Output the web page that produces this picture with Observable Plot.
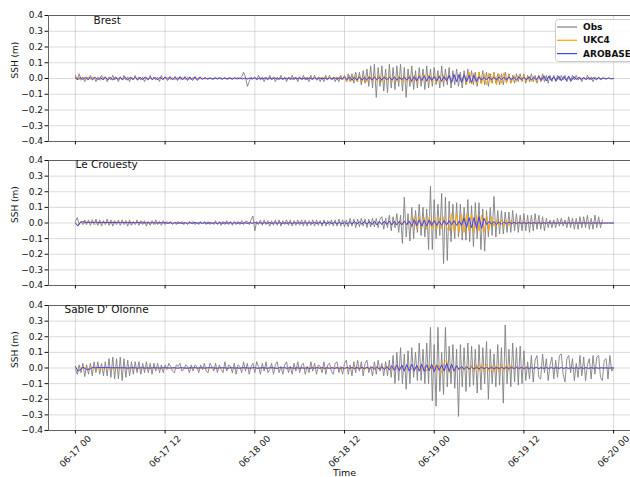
<!DOCTYPE html>
<html><head><meta charset="utf-8">
<script src="https://cdn.jsdelivr.net/npm/d3@7"></script>
<script src="https://cdn.jsdelivr.net/npm/@observablehq/plot@0.6"></script>
<style>
html,body{margin:0;padding:0;overflow:hidden;background:#fff;width:630px;height:477px;}
#wrap{position:relative;width:630px;height:477px;overflow:hidden;font-family:"DejaVu Sans",sans-serif;}
.panel{position:absolute;left:0;}
#legend{position:absolute;left:555px;top:19px;}
</style>
</head><body><div id="wrap"></div>
<script>
// ---------- DATA ----------
const stations = ["Brest", "Le Crouesty", "Sable D' Olonne"];
const seriesNames = ["Obs", "UKC4", "AROBASE"];
const tickLabels = ["06-17 00", "06-17 12", "06-18 00", "06-18 12", "06-19 00", "06-19 12", "06-20 00"];
const yTicks = [-0.4, -0.3, -0.2, -0.1, 0, 0.1, 0.2, 0.3, 0.4];
// Obs sampled every 15 min from 06-17 00:00; models every 20 min
const brestObs = [
.02,-.01,.03,-.01, .01,-.02,.01,-.01, .02,-.01,.01,-.02, .01,-.01,.02,-.01, .01,-.02,.01,-.01, .02,-.01,.01,-.02,
.01,-.01,.02,-.01, .01,-.02,.01,-.01, .02,-.01,.01,-.01, .01,-.02,.01,-.01, .02,-.01,.01,-.01, .01,-.02,.02,-.01,
.01,0,.005,-.005, .005,-.005,0,.005, -.005,.005,0,-.005, .005,0,-.005,.005, 0,-.005,.005,0, -.005,.005,0,-.005,
.005,0,-.005,.005, 0,.005,-.005,0, .005,-.005,.005,0, -.005,.005,0,.005,
0,.01,.04,.01, -.05,-.02,.01,0,
.01,-.01,.02,-.01, .01,-.02,.01,-.01, .02,-.01,.01,-.02, .01,-.01,.02,-.01, .01,-.02,.01,-.01, .02,-.01,.01,-.02,
.01,-.01,.02,-.01, .01,-.02,.02,-.01, .02,-.01,.01,-.02, .01,-.02,.02,-.01, .02,-.01,.01,-.02, .01,-.02,.02,-.01,
.02,-.02,.03,-.02, .03,-.03,.04,-.02, .04,-.04,.05,-.03, .06,-.05,.08,-.06, .09,-.12,.07,-.05, .08,-.08,.06,-.09,
.09,-.06,.07,-.07, .08,-.05,.09,-.08, .07,-.12,.06,-.05, .08,-.07,.05,-.06, .07,-.05,.06,-.07, .08,-.06,.06,-.05,
.07,-.04,.05,-.06, .08,-.05,.06,-.04, .07,-.06,.05,-.04, .06,-.05,.04,-.06, .05,-.04,.06,-.03, .05,-.04,.04,-.05,
.04,-.03,.05,-.04, .04,-.05,.03,-.03, .04,-.03,.03,-.04, .03,-.04,.04,-.02, .03,-.03,.02,-.03, .03,-.02,.03,-.02,
.03,-.03,.02,-.02, .03,-.02,.02,-.03, .02,-.02,.03,-.02, .02,-.03,.02,-.02, .02,-.02,.02,-.01, .02,-.01,.02,-.02,
.01,-.02,.02,-.01, .02,-.01,.01,-.02, .01,-.01,.02,-.01, .01,-.02,.01,-.01,
.01,-.01,.005
];
const brestUKC4 = [
0,.01,-.01, .005,-.01,.01, -.005,.01,-.005, .005,-.01,.005, .01,-.005,.005, -.01,.005,-.005,
.01,-.005,.005, -.01,.01,-.005, .005,-.01,.005, -.005,.01,-.005, .005,-.005,.005, -.005,.005,0,
0,.003,-.002, .002,-.003,0, .003,-.002,.002, 0,-.003,.002, .003,0,-.002, .002,-.003,.003,
0,-.002,.003, -.003,.002,0, .002,-.003,.002, .003,-.002,0, -.002,.003,-.003, .002,0,-.002,
.003,-.002,.002, 0,-.003,.003, -.002,.002,0, .003,-.003,.002, -.002,.003,-.002, 0,.002,-.003,
.01,-.01,.008, -.01,.01,-.008, .01,-.012,.01, -.008,.01,-.01, .012,-.01,.008, -.01,.012,-.01,
.015,-.02,.02, -.015,.02,-.02, .018,-.02,.015, -.02,.02,-.018, .02,-.015,.02, -.02,.018,-.015, .02,-.02,.015, -.018,.02,-.02, .015,-.02,.02,
-.025,.02,-.025, .025,-.02,.025, -.02,.025,-.025, .02,-.025,.02, -.025,.025,-.02, .025,-.025,.02, -.02,.025,-.025,
.03,-.035,.04, -.035,.035,-.04, .04,-.035,.03, -.04,.035,-.03, .035,-.04,.03, -.03,.035,-.03,
.02,-.025,.02, -.02,.02,-.015, .02,-.02,.015, -.02,.015,-.02, .015,-.015,.02, -.015,.015,-.01,
.01,-.01,.012, -.01,.01,-.008, .01,-.012,.01, -.008,.01,-.01, .008,-.01,.008, -.008,.01,-.006, .008,-.006,.005, -.005,.005,-.003,
0
];
const brestArobase = [
.005,-.008,.008, -.006,.008,-.008, .007,-.006,.008, -.008,.006,-.007, .008,-.008,.006, -.007,.008,-.006,
.006,-.007,.008, -.008,.006,-.006, .008,-.007,.006, -.006,.008,-.008, .007,-.006,.007, -.008,.008,-.006,
.01,-.012,.012, -.01,.012,-.012, .012,-.01,.012, -.012,.01,-.012, .012,-.012,.01,
-.004,.004,-.003, .003,-.004,.004, -.003,.004,-.004, .004,-.003,.003, -.004,.004,-.003, .003,-.004,.004, -.004,.003,-.003, .004,-.004,.003, -.003,.004,-.004, .004,-.003,.004, -.004,.003,-.003, .003,-.004,.004, -.004,.004,-.003, .004,-.003,.003, -.003,.004,-.004, .004,-.004,.003, -.003,.003,-.004, .004,-.003,.004, -.004,.004,-.003,
.01,-.008,.01, -.01,.008,-.01, .01,-.01,.008, -.008,.01,-.01, .01,-.008,.008, -.01,.01,-.008, .008,-.01,.01, -.01,.008,-.008, .01,-.01,.01,
-.015,.012,-.015, .015,-.012,.015, -.015,.015,-.012, .012,-.015,.015, -.015,.012,-.015,
.02,-.025,.025, -.02,.025,-.025, .025,-.02,.02, -.025,.02,-.02,
.01,-.01,.008, -.01,.01,-.008, .008,-.01,.01, -.008,.008,-.01, .01,-.008,.008, -.01,.01,-.008, .008,-.008,.01, -.01,.008,-.008,
.015,-.012,.015, -.015,.015,-.012, .012,-.015,.015, -.015,.012,-.012, .015,-.015,.012,
-.005,.005,-.004, .004,-.005,.005, -.004,.004,-.005, .005,-.004,.003, -.003,.003,-.002,
0
];
const crouestyObs = [
.01,.035,-.01,.01, -.01,.02,-.01,.02, -.015,.02,-.01,.025, -.015,.02,-.02,.015, -.01,.025,-.015,.02, -.02,.015,-.01,.02,
-.015,.02,-.01,.015, -.02,.02,-.015,.01, -.01,.02,-.015,.015, -.01,.015,-.02,.01, -.015,.015,-.01,.02, -.01,.01,-.015,.015,
-.01,.01,-.005,.01, -.01,.005,-.01,.01, -.005,.01,-.01,.005, -.01,.01,-.005,.01, -.01,.005,-.01,.01, -.005,.01,-.01,.01,
-.01,.005,-.01,.015, -.01,.01,-.015,.01, -.01,.015,-.01,.01, -.015,.01,-.01,.01, -.01,.015,-.01,.01,
.01,-.01,.02,.045, -.05,.01,-.01,.02,
-.015,.02,-.01,.015, -.02,.015,-.015,.02, -.015,.02,-.02,.015, -.01,.02,-.015,.02, -.02,.015,-.015,.02,
-.015,.02,-.02,.02, -.02,.015,-.015,.02, -.02,.02,-.015,.015, -.02,.02,-.02,.015, -.015,.02,-.02,.02, -.02,.025,-.02,.02,
-.025,.02,-.025,.03, -.02,.025,-.03,.025, -.025,.03,-.02,.025, -.03,.025,-.025,.03, -.025,.03,-.03,.025,
.04,-.04,.03,-.03, .05,-.05,.04,-.03, .06,-.06,.05,-.13, .165,-.09,.06,-.115, .10,-.10,.08,-.06, .12,-.08,.10,-.09,
.09,-.17,.235,-.17, .15,-.10,.12,-.08, .19,-.26,.165,-.24, .14,-.12,.12,-.10, .13,-.09,.12,-.11, .10,-.11,.15,-.12,
.11,-.15,.13,-.10, .13,-.17,.09,-.18, .08,-.09,.10,-.08, .17,-.09,.08,-.07, .08,-.07,.07,-.06, .07,-.06,.08,-.05,
.06,-.06,.05,-.05, .06,-.05,.05,-.06, .05,-.05,.06,-.04, .05,-.04,.04,-.05, .03,-.03,.02,-.03, .02,-.03,.03,-.02,
.03,-.02,.02,-.03, .04,-.03,.03,-.04, .03,-.04,.04,-.03, .04,-.03,.05,-.04, .03,-.04,.05,-.03,
.04,-.03,.02
];
const crouestyUKC4 = [
0,-.015,.005, .005,-.005,.008, -.005,.005,-.008, .005,-.005,.005, -.008,.005,-.005, .008,-.005,.005, -.005,.008,-.005, .005,-.008,.005, -.005,.005,-.005, .008,-.005,.005, -.005,.005,-.008, .005,-.005,.005,
.004,-.003,.003, -.004,.003,-.003, .003,-.004,.004, -.003,.003,-.004, .004,-.003,.003, -.004,.004,-.003,
.003,-.003,.004, -.004,.003,-.003, .003,-.004,.003, -.003,.004,-.004, .004,-.003,.003, -.003,.004,-.003,
.004,-.004,.003, -.003,.003,-.004, .004,-.003,.004, -.004,.003,-.003, .003,-.004,.004, -.003,.003,-.004,
.005,-.004,.005, -.005,.004,-.005, .005,-.005,.004, -.004,.005,-.005, .006,-.005,.005, -.005,.006,-.006,
.01,-.008,.01, -.01,.01,-.008, .008,-.01,.01, -.01,.008,-.01, .01,-.01,.012, -.01,.012,-.01, .01,-.012,.012, -.01,.015,-.012, .015,-.015,.01,
-.03,.04,-.035, .04,-.03,.035, -.04,.04,-.04, .035,-.04,.03, -.035,.04,-.03,
-.05,.06,-.055, .06,-.06,.055, -.06,.06,-.05, .055,-.06,.05,
-.05,.05,-.06, .05,-.045,.04,
-.02,.02,-.015, .02,-.02,.015, -.015,.02,-.01,
.005,-.005,.004, -.004,.005,-.005, .005,-.004,.004, -.005,.005,-.004, .004,-.005,.005, -.004,.004,-.005, .005,-.004,.005, -.005,.004,-.004, .004,-.005,.004, -.004,.005,-.004, .005,-.004,.004, -.004,.004,-.003, .003,-.003,.002,
0
];
const crouestyArobase = [
0,-.02,.005, .008,.005,.003, .005,.003,.005, .004,.003,.005, .003,.004,.002, .003,.004,.002, .003,.002,.003, .002,.003,.002, .002,.003,.001, .002,.001,.002, .001,.002,.001, .001,.002,.001,
.002,-.002,.002, -.002,.003,-.002, .002,-.003,.002, -.002,.002,-.002, .003,-.002,.002, -.002,.002,-.003, .002,-.002,.002, -.003,.002,-.002, .002,-.002,.003, -.002,.002,-.002, .002,-.003,.002,
-.002,.002,-.002, .003,-.002,.002, -.002,.002,-.002, .002,-.003,.002, -.002,.002,-.003, .002,-.002,.002, -.003,.002,-.002, .002,-.002,.003, -.002,.002,-.002, .003,-.003,.004, -.004,.005,-.004,
.005,-.005,.006, -.006,.005,-.006, .006,-.007,.006, -.007,.008,-.007, .008,-.008,.01, -.008,.01,-.01, .01,-.012,.01, -.01,.012,-.01, .012,-.012,.01, -.012,.01,-.012, .012,-.01,.012,
-.02,.02,-.018, .02,-.02,.018, -.02,.02,-.015,
.015,-.015,.012, -.015,.015,-.012, .015,-.012,.015, -.015,.012,-.015,
.03,-.03,.035, -.03,.035,-.035, .04,-.035,.03,
-.01,.01,-.008, .01,-.01,.008, -.008,.008,-.006,
.005,-.004,.004, -.004,.004,-.003, .003,-.004,.003, -.003,.003,-.003, .003,-.003,.002, -.002,.003,-.002, .002,-.002,.002, -.002,.002,-.002, .002,-.002,.002, -.002,.002,-.002, .002,-.002,.002, -.002,.002,-.002, .002,-.002,.001, -.001,.001,-.001,
0
];
const sableObs = [
-.01,-.04,.02,-.03, .03,-.055,.02,-.04, .03,-.05,.04,-.03, .04,-.04,.03,-.05, .04,-.05,.06,-.06, .07,-.07,.06,-.07,
.07,-.08,.06,-.06, .05,-.05,.04,-.04, .04,-.03,.04,-.04, .03,-.03,.04,-.03, .03,-.04,.03,-.02, .03,-.03,.02,-.03,
.02,-.01,.03,.01, -.02,-.03,.02,.01, .03,-.02,-.01,.02, .01,-.03,.02,-.02, .02,.01,-.03,.02, -.01,.03,-.02,-.03,
.03,.01,-.02,.03, -.03,.02,-.01,-.03, .04,-.02,.02,.01, -.03,.03,-.04,.02, .01,-.03,.04,-.02, .03,-.04,.01,.03,
-.03,.04,.01,-.04, .03,-.02,.04,-.03, -.01,.03,-.04,.02, .04,-.03,.01,-.04, .02,.04,-.03,.01, -.04,.03,-.02,.04,
-.03,.02,.03,-.04, .01,-.03,.04,-.02, .03,-.04,.02,.01, -.03,.04,-.04,.02, .03,-.02,-.04,.03, .04,-.03,.01,-.04,
.03,.05,-.04,.02, -.05,.04,-.03,.05, -.02,.04,-.05,.03, .05,-.03,.01,-.05, .04,-.04,.05,-.02, .03,-.05,.04,-.05,
.05,-.06,.08,-.1, .10,-.08,.13,-.10, .09,-.136,.11,-.10, .13,-.06,.10,-.08, .16,-.08,.12,-.10, .16,-.10,.26,-.21,
.15,-.245,.26,-.15, .10,-.17,.26,-.12, .14,-.10,.15,-.13, .12,-.31,.15,-.12, .13,-.15,.16,-.12, .14,-.11,.12,-.16,
.15,-.14,.13,-.10, .17,-.20,.12,-.10, .09,-.12,.15,-.11, .13,-.225,.275,-.10, .12,-.12,.16,-.09, .13,-.11,.14,-.10,
.11,-.08,.04,-.07, .08,-.09,.05,.08, -.06,-.07,.09,-.03, .06,-.08,.02,.07, -.07,.05,-.06,.08, .09,-.04,-.09,.06,
.08,-.03,.06,-.08, .03,-.06,.08,-.05, .07,-.08,.02,.06, -.07,.08,-.04,.07, .08,-.06,-.08,.05, .06,-.07,.08,-.02,
0
];
const sableUKC4 = [
0,-.01,.005, -.005,.005,-.005, .004,-.004,.005, -.005,.004,-.004, .005,-.005,.004, -.004,.005,-.005, .004,-.004,.005, -.005,.004,-.004, .005,-.005,.004, -.004,.005,-.005, .004,-.004,.005, -.005,.004,-.004,
.004,-.003,.003, -.004,.003,-.003, .003,-.004,.004, -.003,.003,-.004, .004,-.003,.003, -.004,.004,-.003, .003,-.003,.004, -.004,.003,-.003, .003,-.004,.003, -.003,.004,-.004,
.004,-.003,.003, -.003,.004,-.003, .004,-.004,.003, -.003,.003,-.004, .004,-.003,.004, -.004,.003,-.003, .003,-.004,.004, -.003,.003,-.004, .004,-.004,.003, -.003,.004,-.003,
.003,-.003,.004, -.004,.003,-.004, .004,-.003,.003, -.003,.004,-.004, .004,-.004,.003, -.003,.003,-.003, .004,-.004,.004, -.004,.003,-.003, .003,-.004,.004, -.004,.005,-.005,
.008,-.01,.01, -.008,.01,-.01, .01,-.008,.01, -.01,.012,-.01, .012,-.012,.01,
-.02,.02,-.015, .025,-.02,.02, -.03,.035,.05, -.03,.02,-.02,
.015,-.015,.012, -.015,.015,-.012,
.02,-.025,.025, -.02,.025,-.025, .025,-.02,.02, -.025,.02,-.025, .025,-.02,.02,
-.015,.02,-.01, .01,-.01,.008, -.008,.01,-.008, .008,-.008,.006, -.006,.008,-.006, .006,-.006,.005, -.005,.006,-.005, .005,-.005,.005, -.004,.005,-.004, .004,-.004,.004, -.004,.004,-.003, .003,-.003,.003, -.003,.003,-.002, .002,-.002,.001,
0
];
const sableArobase = [
.01,-.02,-.01, .005,-.005,-.01, -.005,.005,0, .004,.002,.003, .002,.003,.001, .002,.001,.002,
.001,.002,.001, -.001,.001,.002, .001,-.001,.001, .002,-.001,.001, -.001,.002,.001, .001,-.001,.002, .001,.001,-.001, .002,.001,-.001, .001,.002,-.001, -.001,.001,.001, .002,-.001,.001, .001,-.001,.002,
.001,.002,-.001, -.001,.001,.002, .001,-.002,.001, .002,-.001,.001, -.002,.002,.001, .001,-.002,.002, .002,-.001,-.001, .002,.001,-.002, .001,.002,-.001, -.002,.002,.001, .002,-.002,.002, .001,-.002,.002,
-.002,.002,-.002, .002,-.003,.002, -.002,.003,-.002, .003,-.003,.002, -.003,.003,-.003, .003,-.004,.003, -.004,.004,-.003, .004,-.005,.004, -.005,.005,-.006, .006,-.006,.007, -.007,.008,-.008, .008,-.01,.01,
-.012,.015,-.015, .02,-.018,.02, -.02,.022,-.02, .025,-.02,.018, -.02,.025,-.022, .02,-.018,.025, -.025,.02,-.015, .02,-.02,.03, -.02,.025,-.02,
.015,-.01,.01, -.008,.008,-.006, .006,-.006,.005, -.005,.005,-.004, .004,-.004,.004, -.004,.003,-.003, .004,-.003,.003, -.003,.003,-.003, .003,-.002,.003, -.003,.002,-.002, .002,-.002,.003, -.003,.002,-.002, .002,-.002,.002, -.002,.002,-.002, .002,-.002,.002, -.002,.002,-.002, .002,-.002,.002, -.002,.002,-.002, .002,-.001,.001, -.001,.001,-.001, .001,-.001,.001,
0
];

// ---------- BUILD ----------
const HOUR = 3600e3;
const start = Date.UTC(2023, 5, 17, 0, 0);
const toRows = (arr, stepMin) => arr.map((v, i) => ({t: new Date(start + i * stepMin * 60e3), v}));
const xTicks = tickLabels.map((_, i) => new Date(start + i * 12 * HOUR));
const xDomain = [new Date(start - 3.6 * HOUR), new Date(start + 75.6 * HOUR)];
const colors = {Obs: "#808080", UKC4: "#ffa500", AROBASE: "#4040ff"};

const panels = [
  {name: stations[0], obs: brestObs, uk: brestUKC4, aro: brestArobase, top: 0, height: 160, mb: 19, dx: 45, dy: 1},
  {name: stations[1], obs: crouestyObs, uk: crouestyUKC4, aro: crouestyArobase, top: 145, height: 160, mb: 20, dx: 27, dy: 0},
  {name: stations[2], obs: sableObs, uk: sableUKC4, aro: sableArobase, top: 290, height: 187, mb: 47, dx: 16, dy: 0, last: true}
];

const wrap = document.getElementById("wrap");
const fmtX = d3.utcFormat("%m-%d %H");

panels.forEach(p => {
  const marks = [
    Plot.gridX(xTicks, {stroke: "#b0b0b0", strokeOpacity: 0.6, strokeWidth: 0.8}),
    Plot.gridY(yTicks, {stroke: "#b0b0b0", strokeOpacity: 0.6, strokeWidth: 0.8}),
    Plot.line(toRows(p.obs, 15), {x: "t", y: "v", stroke: colors.Obs, strokeWidth: 0.9}),
    Plot.line(toRows(p.uk, 20), {x: "t", y: "v", stroke: colors.UKC4, strokeWidth: 1}),
    Plot.line(toRows(p.aro, 20), {x: "t", y: "v", stroke: colors.AROBASE, strokeWidth: 1}),
    Plot.frame({stroke: "#555", strokeWidth: 0.9}),
    Plot.axisY(yTicks, {tickFormat: d3.format(".1f"), tickSize: 3.5, tickPadding: 2, label: null, fontSize: 9}),
    Plot.axisX(xTicks, {tickFormat: () => "", tickSize: 3.5, label: null}),
    Plot.text([p.name], {frameAnchor: "top-left", textAnchor: "start", lineAnchor: "top", dx: p.dx, dy: p.dy, fontSize: 10.5, fill: "#111"}),
    Plot.text(["SSH (m)"], {frameAnchor: "left", dx: -33, rotate: -90, fontSize: 9, fill: "#111"})
  ];
  if (p.last) {
    marks.push(Plot.text(xTicks, {x: d => d, frameAnchor: "bottom", text: d => fmtX(d), rotate: -45, textAnchor: "middle", lineAnchor: "middle", dy: 21, fontSize: 9, fill: "#111"}));
    marks.push(Plot.text(["Time"], {frameAnchor: "bottom", lineAnchor: "middle", dy: 42, fontSize: 9.5, fill: "#111"}));
  }
  const svg = Plot.plot({
    width: 640, height: p.height,
    marginLeft: 48, marginRight: 0, marginTop: 15, marginBottom: p.mb,
    style: {fontFamily: "DejaVu Sans, sans-serif", fontSize: "9px", color: "#111", background: "transparent", maxWidth: "none", overflow: "visible"},
    x: {type: "utc", domain: xDomain},
    y: {domain: [-0.4, 0.4]},
    marks
  });
  svg.classList.add("panel");
  svg.style.top = p.top + "px";
  wrap.appendChild(svg);
});

// legend (decoration)
const ns = "http://www.w3.org/2000/svg";
const leg = document.createElementNS(ns, "svg");
leg.setAttribute("id", "legend");
leg.setAttribute("width", "90");
leg.setAttribute("height", "44");
leg.innerHTML = `<rect x="0.5" y="0.5" width="88" height="42" rx="3" fill="white" fill-opacity="0.85" stroke="#ccc"/>` +
  seriesNames.map((s, i) => `<line x1="2" x2="22" y1="${8 + i * 13.3}" y2="${8 + i * 13.3}" stroke="${colors[s]}" stroke-width="1.2"/>` +
    `<text x="28" y="${8 + i * 13.3}" dy="0.35em" font-family="DejaVu Sans" font-weight="bold" font-size="9" fill="#111">${s}</text>`).join("");
wrap.appendChild(leg);
</script></body></html>
